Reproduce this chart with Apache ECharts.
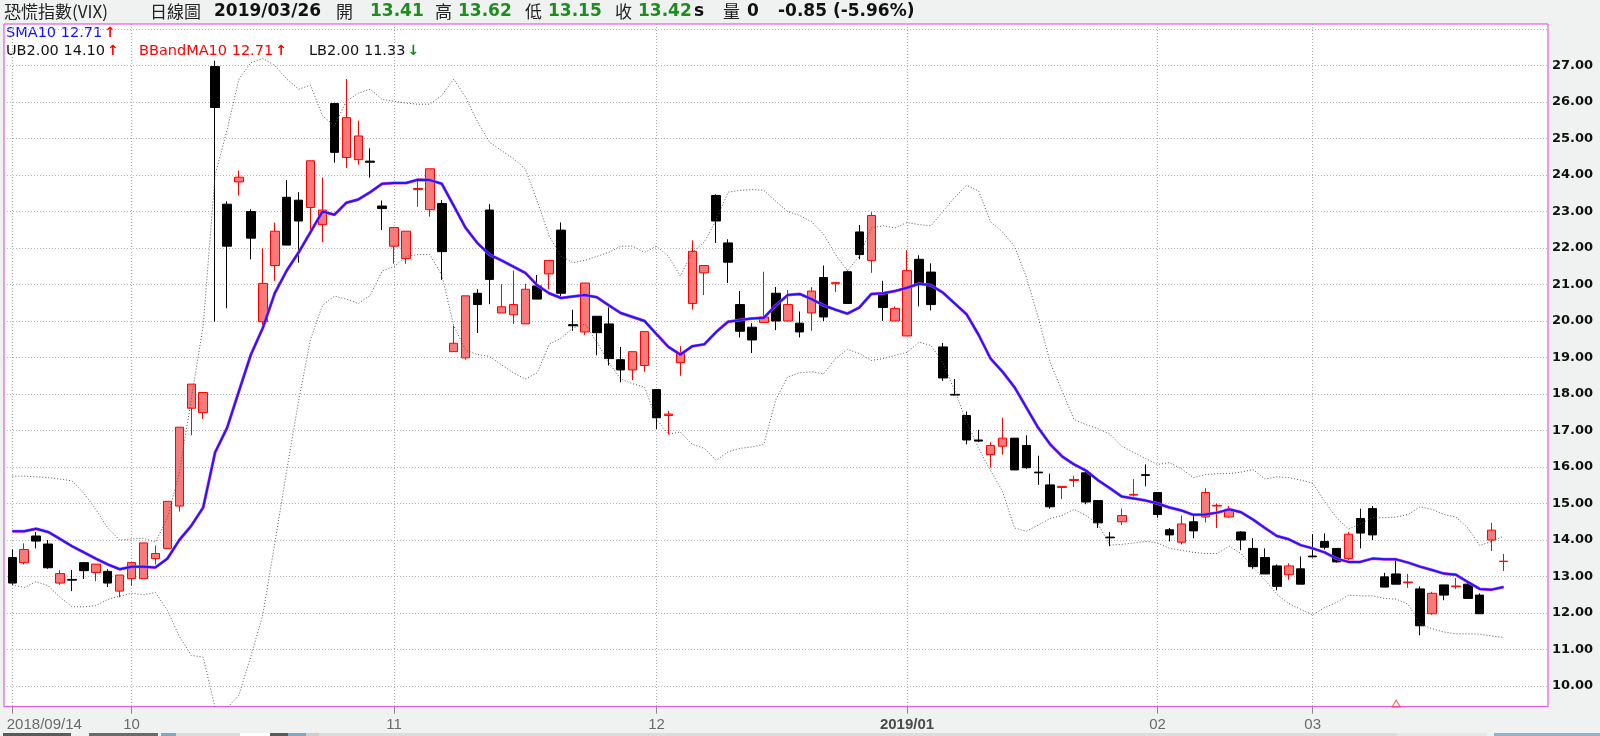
<!DOCTYPE html>
<html><head><meta charset="utf-8">
<script src="https://cdn.jsdelivr.net/npm/echarts@6/dist/echarts.min.js"></script>
<style>html,body{margin:0;padding:0;background:#f0f1f1;}#c{width:1600px;height:736px;}</style>
</head><body><div id="c"></div>
<script>
// ---- data ----
const dates = [
'2018/09/14','2018/09/17','2018/09/18','2018/09/19','2018/09/20','2018/09/21','2018/09/25','2018/09/26','2018/09/27','2018/09/28',
'2018/10/01','2018/10/02','2018/10/03','2018/10/04','2018/10/05','2018/10/08','2018/10/09','2018/10/11','2018/10/12','2018/10/15',
'2018/10/16','2018/10/17','2018/10/18','2018/10/19','2018/10/22','2018/10/23','2018/10/24','2018/10/25','2018/10/26','2018/10/29',
'2018/10/30','2018/10/31',
'2018/11/01','2018/11/02','2018/11/05','2018/11/06','2018/11/07','2018/11/08','2018/11/09','2018/11/12','2018/11/13','2018/11/14',
'2018/11/15','2018/11/16','2018/11/19','2018/11/20','2018/11/21','2018/11/22','2018/11/23','2018/11/26','2018/11/27','2018/11/28',
'2018/11/29','2018/11/30',
'2018/12/03','2018/12/04','2018/12/05','2018/12/06','2018/12/07','2018/12/10','2018/12/11','2018/12/12','2018/12/13','2018/12/14',
'2018/12/17','2018/12/18','2018/12/19','2018/12/20','2018/12/21','2018/12/24','2018/12/25','2018/12/26','2018/12/27','2018/12/28',
'2018/12/31',
'2019/01/02','2019/01/03','2019/01/04','2019/01/07','2019/01/08','2019/01/09','2019/01/10','2019/01/11','2019/01/14','2019/01/15',
'2019/01/16','2019/01/17','2019/01/18','2019/01/21','2019/01/22','2019/01/23','2019/01/24','2019/01/25','2019/01/28','2019/01/29',
'2019/01/30',
'2019/02/11','2019/02/12','2019/02/13','2019/02/14','2019/02/15','2019/02/18','2019/02/19','2019/02/20','2019/02/21','2019/02/22',
'2019/02/25','2019/02/26','2019/02/27',
'2019/03/04','2019/03/05','2019/03/06','2019/03/07','2019/03/08','2019/03/11','2019/03/12','2019/03/13','2019/03/14','2019/03/15',
'2019/03/18','2019/03/19','2019/03/20','2019/03/21','2019/03/22','2019/03/25','2019/03/26'
];
const opens = [13.52,13.38,14.11,13.89,12.82,12.92,13.38,13.11,13.14,12.60,
12.94,12.94,13.49,13.77,14.93,17.61,17.49,26.97,23.20,23.81,
23.00,19.98,21.52,23.39,23.31,23.11,22.64,25.96,24.48,24.42,
24.38,23.15,22.05,21.71,23.60,23.05,23.22,19.16,18.99,20.76,
23.04,20.22,20.17,19.92,20.96,21.29,22.49,19.90,19.70,20.13,
19.92,18.94,18.66,18.78,18.12,17.41,18.86,20.48,21.32,23.44,
22.14,20.45,19.83,19.96,20.76,20.00,19.94,20.22,21.19,21.02,
21.35,22.44,21.66,20.76,20.00,19.59,21.69,21.34,19.29,17.99,
17.41,16.74,16.34,16.57,16.79,16.59,15.86,15.51,15.44,15.63,
15.84,15.08,14.08,14.50,15.23,15.79,15.30,14.28,13.94,14.50,
14.63,14.93,14.63,14.22,13.77,13.52,13.29,13.05,13.21,13.56,
13.96,13.77,13.49,14.59,14.86,12.99,13.07,12.83,12.66,11.98,
12.77,12.72,12.79,12.49,14.00,13.41];
const closes = [12.82,13.74,13.97,13.24,13.08,12.90,13.16,13.34,12.82,13.04,
13.38,13.92,13.63,15.06,17.09,18.27,18.04,25.85,22.05,23.94,
22.27,21.03,22.46,22.08,22.74,24.39,23.04,24.62,25.57,25.07,
24.35,23.08,22.56,22.46,23.63,24.17,21.90,19.39,20.69,20.45,
21.14,20.39,20.45,20.87,20.60,21.66,20.76,19.87,21.04,19.68,
18.97,18.66,19.16,19.71,17.35,17.45,19.11,21.91,21.52,22.74,
21.61,19.72,19.48,20.11,20.00,20.45,19.70,20.82,20.11,21.05,
20.48,21.82,22.89,20.37,20.34,21.38,21.01,20.45,18.44,17.97,
16.74,16.71,16.59,16.79,15.92,15.98,15.84,14.91,15.47,15.66,
15.04,14.47,14.06,14.67,15.25,15.77,14.70,14.14,14.44,14.25,
15.30,14.95,14.84,14.00,13.27,13.07,12.73,13.29,12.79,13.54,
13.80,13.40,14.16,14.19,14.14,12.71,12.79,12.85,11.65,12.54,
12.49,12.74,12.40,11.98,14.27,13.42];
const lows = [12.77,13.33,13.77,13.21,12.77,12.60,12.93,12.87,12.71,12.43,
12.74,12.94,13.33,13.77,14.78,16.87,17.32,19.98,20.35,23.44,
21.69,19.73,21.10,22.08,21.60,22.49,22.16,24.34,24.19,24.28,
23.93,22.49,21.57,21.57,23.13,22.86,21.13,19.16,18.94,19.67,
20.46,20.22,19.92,19.92,20.60,20.87,20.67,19.73,19.62,19.06,
18.78,18.32,18.38,18.61,17.04,16.89,18.50,20.31,20.71,22.14,
21.04,19.55,19.12,19.96,19.75,19.98,19.55,19.73,20.00,20.79,
20.48,21.69,21.32,20.00,20.00,19.59,20.40,20.29,18.36,17.97,
16.62,16.68,15.98,16.34,15.92,15.95,15.51,14.86,15.12,15.45,
14.98,14.33,13.83,14.41,15.19,15.47,14.61,13.96,13.88,14.05,
14.48,14.33,14.61,13.72,13.21,13.07,12.62,12.91,12.79,13.52,
13.74,13.38,13.44,13.77,14.00,12.71,12.79,12.69,11.39,11.95,
12.35,12.66,12.40,11.98,13.70,13.15];
const highs = [13.74,13.91,14.22,14.00,13.18,13.18,13.40,13.34,13.20,13.04,
13.38,13.92,13.85,15.06,17.09,18.27,18.04,27.13,23.28,24.12,
23.06,21.99,22.70,23.86,23.53,24.39,23.93,25.96,26.63,25.49,
24.73,23.30,22.56,22.46,23.84,24.17,23.31,19.87,20.69,20.87,
23.20,21.01,21.38,21.02,21.26,21.66,22.70,20.31,21.04,20.13,
20.37,19.29,19.16,19.71,18.12,17.54,19.31,22.21,21.52,23.47,
22.24,20.82,19.94,21.35,20.93,20.85,20.26,20.93,21.52,21.07,
21.38,22.63,22.98,21.10,20.40,21.94,21.80,21.58,19.40,18.41,
17.52,17.02,16.68,17.35,16.79,16.87,16.31,15.82,15.47,15.76,
15.90,15.08,14.22,14.86,15.67,16.07,15.30,14.33,14.67,14.67,
15.42,15.00,14.93,14.24,14.05,13.77,13.33,13.36,13.55,14.16,
14.18,13.77,14.22,14.86,14.93,13.10,13.50,13.07,12.73,12.58,
12.77,12.96,12.82,12.54,14.47,13.62];
const sma10 = [14.24,14.24,14.31,14.22,14.03,13.83,13.66,13.49,13.33,13.20,
13.27,13.27,13.25,13.49,14.00,14.39,14.89,16.40,17.07,18.08,
19.08,19.81,20.76,21.38,21.88,22.44,23.00,22.91,23.24,23.33,
23.53,23.76,23.78,23.78,23.87,23.86,23.76,23.16,22.55,22.13,
21.82,21.66,21.49,21.32,20.98,20.76,20.63,20.67,20.71,20.65,
20.43,20.22,20.11,20.00,19.64,19.29,19.08,19.31,19.36,19.70,
19.98,20.03,20.07,20.09,20.43,20.71,20.74,20.60,20.43,20.31,
20.20,20.37,20.74,20.76,20.82,20.91,21.02,20.98,20.78,20.48,
20.18,19.62,18.97,18.61,18.19,17.63,17.07,16.62,16.29,16.07,
15.90,15.64,15.42,15.19,15.14,15.08,15.00,14.89,14.81,14.69,
14.70,14.75,14.84,14.76,14.56,14.33,14.11,14.02,13.86,13.77,
13.66,13.49,13.40,13.40,13.49,13.47,13.47,13.38,13.27,13.18,
13.08,13.05,12.85,12.66,12.64,12.71];
const bbUpper = [15.75,15.75,15.73,15.71,15.67,15.62,15.28,14.84,14.33,14.00,
14.03,14.05,13.94,14.61,15.84,17.85,19.87,24.00,25.23,26.63,
27.08,27.19,27.00,26.63,26.35,26.46,25.62,25.35,26.02,26.24,
26.35,26.07,26.02,25.97,25.94,25.94,26.18,26.63,26.13,25.46,
24.90,24.67,24.45,24.17,23.28,22.33,21.77,21.60,21.66,21.77,
21.88,22.05,22.05,21.88,22.05,21.77,21.23,21.88,22.16,22.77,
23.53,23.58,23.60,23.58,23.28,23.00,22.89,22.72,22.38,21.82,
21.38,21.77,22.55,22.61,22.55,22.70,22.64,22.61,23.00,23.39,
23.72,23.56,22.72,22.44,22.05,21.21,20.09,18.86,18.08,17.30,
17.16,17.05,16.90,16.57,16.40,16.23,16.07,16.12,15.95,15.71,
15.79,15.82,15.82,15.86,15.93,15.67,15.73,15.71,15.64,15.56,
15.06,14.61,14.30,14.44,14.61,14.61,14.63,14.70,14.91,14.84,
14.70,14.63,14.33,13.85,13.96,14.10];
const bbLower = [12.77,12.70,12.86,12.75,12.43,12.17,12.17,12.20,12.37,12.46,
12.54,12.50,12.56,12.07,11.36,10.84,10.79,9.40,9.40,9.75,
10.82,11.95,13.90,15.90,17.82,19.50,20.43,20.68,20.60,20.48,
20.70,21.37,21.49,21.77,21.82,21.82,21.26,19.87,19.20,19.08,
19.03,18.80,18.58,18.41,18.58,19.36,19.53,19.81,19.92,19.42,
18.86,18.41,18.28,18.19,17.30,16.90,16.96,16.62,16.51,16.18,
16.42,16.51,16.55,16.62,17.85,18.47,18.58,18.61,18.55,18.97,
19.22,19.11,18.92,18.97,19.06,19.14,19.42,19.33,18.86,18.08,
17.24,16.51,15.90,15.34,14.33,14.24,14.41,14.59,14.67,14.84,
14.67,14.44,13.86,13.88,13.92,13.96,13.92,13.77,13.72,13.66,
13.63,13.63,13.83,13.63,13.25,12.91,12.51,12.26,12.10,11.95,
12.15,12.29,12.49,12.47,12.47,12.40,12.38,12.24,11.70,11.57,
11.48,11.43,11.43,11.42,11.37,11.33];
const bbMid = sma10;           // BBandMA10 coincides with SMA10
const signalMarks = [['2019/03/13', 9.52]];
const volume = 0;

// ---- chart ----
const N = dates.length;
const last = N - 1;
const candleData = dates.map((d, i) => [opens[i], closes[i], lows[i], highs[i]]);
const isMonthStart = (i) => i === 0 || dates[i].slice(0, 7) !== dates[i - 1].slice(0, 7);
const chg = closes[last] - closes[last - 1];
const pct = chg / closes[last - 1] * 100;
const f2 = (v) => v.toFixed(2);
const arrow = (arr) => arr[last] >= arr[last - 1] ? '{up|↑}' : '{dn|↓}';

const CJK = '"Noto Sans CJK TC"';
const NUM = '"DejaVu Sans"';
const HY = 12;
function t(x, y, text, font, fill, extra) {
  return Object.assign({ type: 'text', x: x, y: y, silent: true,
    style: Object.assign({ text: text, font: font, fill: fill, textVerticalAlign: 'middle', verticalAlign: 'middle' }, extra || {}) });
}
const green = '#1e8c1e';
const LF = '14.5px ' + NUM;
const legRich = {
  b: { fill: '#1010ff', font: LF },
  k: { fill: '#111', font: LF },
  r: { fill: '#ff0000', font: LF },
  up: { fill: '#ff0000', font: 'bold 14px ' + NUM, padding: [0, 0, 0, 2] },
  dn: { fill: '#138a13', font: 'bold 14px ' + NUM, padding: [0, 0, 0, 2] }
};
const graphics = [
  t(4, HY, '恐慌指數(VIX)', '17px ' + CJK, '#222'),
  t(150, HY, '日線圖', '17px ' + CJK, '#222'),
  t(214, HY, dates[last], 'bold 17px ' + NUM, '#111'),
  t(336, HY, '開', '17px ' + CJK, '#222'),
  t(370, HY, f2(opens[last]), 'bold 17px ' + NUM, green),
  t(435, HY, '高', '17px ' + CJK, '#222'),
  t(458, HY, f2(highs[last]), 'bold 17px ' + NUM, green),
  t(525, HY, '低', '17px ' + CJK, '#222'),
  t(548, HY, f2(lows[last]), 'bold 17px ' + NUM, green),
  t(615, HY, '收', '17px ' + CJK, '#222'),
  t(638, HY, f2(closes[last]), 'bold 17px ' + NUM, green),
  t(694, HY, 's', 'bold 17px ' + NUM, '#111'),
  t(723, HY, '量', '17px ' + CJK, '#222'),
  t(747, HY, String(volume), 'bold 17px ' + NUM, '#111'),
  t(778, HY, f2(chg) + ' (' + f2(pct) + '%)', 'bold 17px ' + NUM, '#111'),
  t(6, 33, '{b|SMA10 ' + f2(sma10[last]) + '}' + arrow(sma10), LF, '#00f', { rich: legRich }),
  t(6, 51, '{k|UB2.00 ' + f2(bbUpper[last]) + '}' + arrow(bbUpper), LF, '#111', { rich: legRich }),
  t(139, 51, '{r|BBandMA10 ' + f2(bbMid[last]) + '}' + arrow(bbMid), LF, '#f00', { rich: legRich }),
  t(309, 51, '{k|LB2.00 ' + f2(bbLower[last]) + '}' + arrow(bbLower), LF, '#111', { rich: legRich })
];
// bottom tool strip
[[3,733,68,3,'#5a5a5a'],[89,733,69,3,'#6a6a6a'],[161,733,15,3,'#7fa8c8'],[176,733,64,3,'#dcdcdc'],
 [240,733,30,3,'#ffffff'],[270,733,18,3,'#5a5a5a'],[288,733,18,3,'#7fa8c8'],[306,733,13,3,'#cfcfcf'],
 [319,733,1078,3,'#dcdcdc'],[1397,733,90,3,'#e6e6e6'],[1494,733,106,3,'#8fb4d0']].forEach(r => {
  graphics.push({ type: 'rect', silent: true, shape: { x: r[0], y: r[1], width: r[2], height: r[3] }, style: { fill: r[4] } });
});

const Y_MIN = 9.433, Y_MAX = 28.137;
const chart = echarts.init(document.getElementById('c'), null, { renderer: 'canvas' });
chart.setOption({
  animation: false,
  backgroundColor: '#f0f1f1',
  graphic: graphics,
  grid: [
    { left: 4, top: 24, width: 1544, height: 682.7, show: true, backgroundColor: '#ffffff', borderColor: '#e23be2', borderWidth: 1 },
    { left: 4, top: 29, width: 1544, height: 657 },
    { left: 12.3, top: 24, width: 1491.25, height: 682.7 }
  ],
  xAxis: [
    { gridIndex: 0, type: 'value', show: false, min: 0, max: 1 },
    { gridIndex: 1, type: 'value', show: false, min: 0, max: 1 },
    { gridIndex: 2, type: 'category', data: dates, boundaryGap: false,
      axisLine: { show: false },
      axisTick: { show: true, interval: isMonthStart, length: 7, lineStyle: { color: '#8a8a8a' } },
      splitLine: { show: true, interval: isMonthStart, lineStyle: { color: '#a8a8a8', type: [1, 2], width: 1 } },
      axisLabel: {
        interval: isMonthStart, margin: 11, color: '#6a6a6a', fontFamily: 'Liberation Sans', fontSize: 15,
        formatter: (v, i) => {
          if (i === 0) return '{first|' + v + '}';
          const m = v.slice(5, 7);
          return m === '01' ? '{yr|' + v.slice(0, 7) + '}' : m;
        },
        rich: {
          first: { padding: [0, 0, 0, 64], color: '#6a6a6a', fontFamily: 'Liberation Sans', fontSize: 15 },
          yr: { fontWeight: 'bold', color: '#4a4a4a', fontFamily: 'Liberation Sans', fontSize: 15 }
        }
      } }
  ],
  yAxis: [
    { gridIndex: 0, type: 'value', show: false, min: 0, max: 1 },
    { gridIndex: 1, type: 'value', position: 'right', min: 10, max: 28, interval: 1,
      axisLine: { show: false }, axisTick: { show: false },
      splitLine: { show: true, lineStyle: { color: '#b5b5b5', type: [1, 2], width: 1 } },
      axisLabel: { margin: 4, color: '#111', fontFamily: 'DejaVu Sans', fontWeight: 'bold', fontSize: 13,
        formatter: (v) => v >= 28 ? '' : v.toFixed(2) } },
    { gridIndex: 2, type: 'value', show: false, min: Y_MIN, max: Y_MAX, scale: true }
  ],
  series: [
    { type: 'candlestick', xAxisIndex: 2, yAxisIndex: 2, data: candleData, barWidth: 9, clip: false, silent: true,
      itemStyle: { color: '#f77a7a', color0: '#000000', borderColor: '#ff0000', borderColor0: '#000000', borderWidth: 1 }, z: 2 },
    { type: 'line', name: 'UB2.00', xAxisIndex: 2, yAxisIndex: 2, data: bbUpper, symbol: 'none', silent: true,
      lineStyle: { color: '#555555', width: 1, type: [1, 2] }, z: 3 },
    { type: 'line', name: 'LB2.00', xAxisIndex: 2, yAxisIndex: 2, data: bbLower, symbol: 'none', silent: true,
      lineStyle: { color: '#555555', width: 1, type: [1, 2] }, z: 3 },
    { type: 'line', name: 'BBandMA10', xAxisIndex: 2, yAxisIndex: 2, data: bbMid, symbol: 'none', silent: true,
      lineStyle: { color: '#e040e0', width: 3 }, z: 4 },
    { type: 'line', name: 'SMA10', xAxisIndex: 2, yAxisIndex: 2, data: sma10, symbol: 'none', silent: true,
      lineStyle: { color: '#1a1aff', width: 2 }, z: 5 },
    { type: 'scatter', xAxisIndex: 2, yAxisIndex: 2, data: signalMarks, symbol: 'triangle', symbolSize: [8, 7], silent: true,
      itemStyle: { color: 'rgba(255,255,255,0)', borderColor: '#ff3030', borderWidth: 1 }, z: 6 }
  ]
});
</script></body></html>
